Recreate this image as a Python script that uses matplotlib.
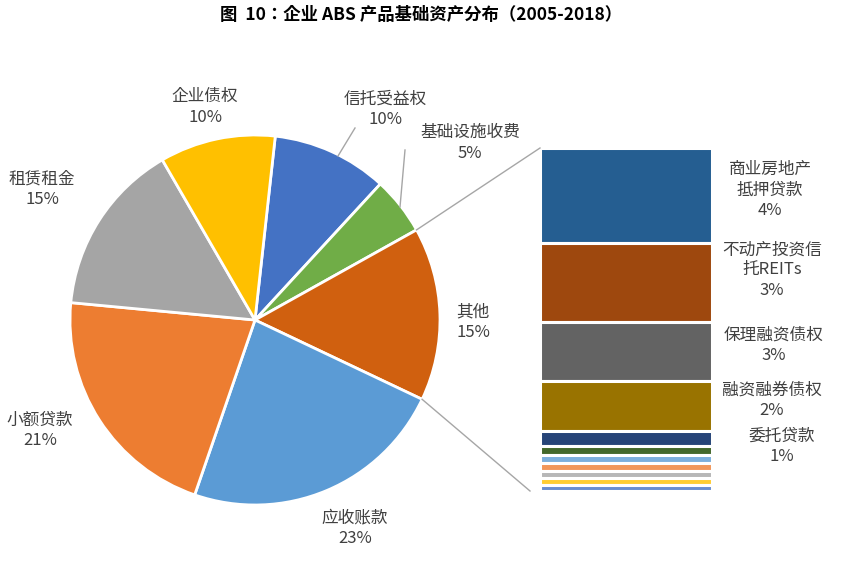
import matplotlib
matplotlib.use("Agg")
import matplotlib.pyplot as plt
from matplotlib import font_manager as fm
import numpy as np
from matplotlib.lines import Line2D

cjk = [f.name for f in fm.fontManager.ttflist if 'CJK' in f.name]
pref = [n for n in ['Noto Sans CJK SC', 'Noto Sans CJK JP', 'Noto Sans CJK TC', 'Noto Sans CJK KR'] if n in cjk]
plt.rcParams['font.family'] = 'sans-serif'
plt.rcParams['font.sans-serif'] = (pref or cjk) + ['DejaVu Sans']

pie_labels = ['信托受益权', '基础设施收费', '其他', '应收账款', '小额贷款', '租赁租金', '企业债权']
pie_values = [10, 5, 15, 23, 21, 15, 10]
pie_colors = ['#4472C4', '#70AD47', '#D0600F', '#5B9BD5', '#ED7D31', '#A5A5A5', '#FFC000']

bar_labels = ['商业房地产\n抵押贷款', '不动产投资信\n托REITs', '保理融资债权', '融资融券债权', '委托贷款']
bar_pct_text = ['4%', '3%', '3%', '2%', '1%']
bar_values = [4.0, 3.3, 2.5, 2.1, 0.6, 0.38, 0.34, 0.34, 0.3, 0.3, 0.25]
bar_colors = ['#255E91', '#9E480E', '#636363', '#997300', '#264478', '#43682B',
              '#7CAFDD', '#F1975A', '#B7B7B7', '#FFCD33', '#698ED0']

W, H = 842, 571
fig = plt.figure(figsize=(W/100, H/100), dpi=100)

def fx(x): return x / W
def fy(y): return 1 - y / H

cx, cy, r = 255, 320, 185
ax = fig.add_axes([fx(cx - r), fy(cy + r), 2*r/W, 2*r/H])
start = 83.7
wedges, _ = ax.pie(pie_values, colors=pie_colors, startangle=start, counterclock=False,
                   wedgeprops=dict(edgecolor='white', linewidth=2), radius=1)
ax.set_xlim(-1, 1); ax.set_ylim(-1, 1); ax.set_aspect('auto'); ax.axis('off')

bx0, bx1, by0, by1 = 540, 712, 148, 491
bax = fig.add_axes([fx(bx0), fy(by1), (bx1-bx0)/W, (by1-by0)/H])
bottoms = np.concatenate([[0], np.cumsum(bar_values)[:-1]])
bax.bar(0.5, bar_values, bottom=bottoms, width=1, color=bar_colors, edgecolor='white', linewidth=2.2)
bax.set_xlim(0, 1); bax.set_ylim(sum(bar_values), 0); bax.axis('off')

total = sum(pie_values)
a1 = np.deg2rad(start - 360 * sum(pie_values[:2]) / total)
a2 = np.deg2rad(start - 360 * sum(pie_values[:3]) / total)
for a, (tx, ty) in [(a1, (bx0, by0)), (a2, (bx0 - 10, by1))]:
    px, py = cx + r*np.cos(a), cy - r*np.sin(a)
    fig.add_artist(Line2D([fx(px), fx(tx)], [fy(py), fy(ty)], color='#A6A6A6', lw=1))

pie_pos = [(385, 109), (470, 143), (473, 322), (355, 528), (40, 430), (42, 189), (205, 107)]
for lab, v, (x, y) in zip(pie_labels, pie_values, pie_pos):
    fig.text(fx(x), fy(y), f'{lab}\n{v}%', ha='center', va='center', fontsize=12,
             color='#404040', linespacing=1.25)
for (x0, y0, x1, y1) in [(355, 128, 338, 156), (405, 150, 400, 207)]:
    fig.add_artist(Line2D([fx(x0), fx(x1)], [fy(y0), fy(y1)], color='#A6A6A6', lw=1))

bar_pos = [(770, 190), (772, 270), (774, 345), (772, 400), (782, 446)]
for lab, p, (x, y) in zip(bar_labels, bar_pct_text, bar_pos):
    fig.text(fx(x), fy(y), f'{lab}\n{p}', ha='center', va='center', fontsize=12,
             color='#404040', linespacing=1.25)

fig.text(0.5, fy(15), '图  10：企业 ABS 产品基础资产分布（2005-2018）', ha='center', va='center',
         fontsize=12.5, fontweight='bold', color='#000000')

fig.savefig('out.png', dpi=100, facecolor='white')
